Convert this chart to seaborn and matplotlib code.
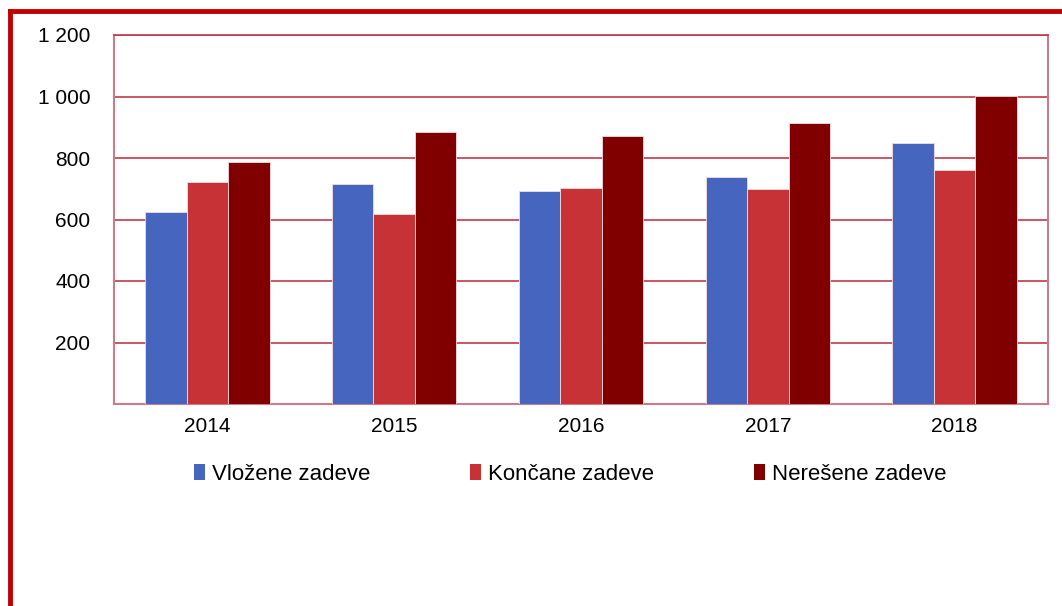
import pandas as pd
import matplotlib.pyplot as plt
import matplotlib.ticker as mticker
from matplotlib.lines import Line2D
from matplotlib.patches import Patch
import seaborn as sns

# === Data
years = ['2014', '2015', '2016', '2017', '2018']
vlozene = [624, 715, 693, 738, 849]
koncane = [721, 618, 702, 699, 761]
neresene = [787, 884, 872, 914, 1001]
series_names = ['Vložene zadeve', 'Končane zadeve', 'Nerešene zadeve']
colors = ['#4565BE', '#C63236', '#800000']

df = pd.DataFrame({
    'Leto': years * 3,
    'Zadeve': series_names[0:1] * 5 + series_names[1:2] * 5 + series_names[2:3] * 5,
    'Število': vlozene + koncane + neresene,
})

sns.set_style('white')
plt.rcParams['font.family'] = ['Liberation Sans', 'DejaVu Sans']
plt.rcParams['text.color'] = 'black'
plt.rcParams['xtick.color'] = 'black'
plt.rcParams['ytick.color'] = 'black'

fig = plt.figure(figsize=(10.62, 6.06), dpi=100)
ax = fig.add_axes([114 / 1062, 1 - 404 / 606, (1048 - 114) / 1062, (404 - 35) / 606])

sns.barplot(data=df, x='Leto', y='Število', hue='Zadeve', palette=colors,
            saturation=1, width=0.665, gap=0, edgecolor='#F2DDE0', linewidth=0.6,
            legend=False, ax=ax, zorder=3)

grid_c = '#C0394B'
spine_c = '#CB7C8A'

ax.set_ylim(0, 1200)
ax.set_xlim(-0.5, 4.5)
ax.set_yticks(range(0, 1201, 200))
ax.yaxis.set_major_formatter(mticker.FuncFormatter(
    lambda v, p: '' if v == 0 else f'{int(v):,}'.replace(',', ' ')))
ax.grid(axis='y', color=grid_c, linewidth=1.2, zorder=0)
ax.set_axisbelow(True)
ax.set_xlabel('')
ax.set_ylabel('')

for side in ['left', 'right', 'bottom', 'top']:
    ax.spines[side].set_visible(True)
    ax.spines[side].set_color(spine_c)
    ax.spines[side].set_linewidth(1.5)
ax.spines['top'].set_color(grid_c)
ax.spines['top'].set_linewidth(1.2)

ax.tick_params(axis='y', length=7, color=spine_c, labelcolor='black', width=1.2, labelsize=15, pad=10)
ax.tick_params(axis='x', which='major', length=0, labelcolor='black', labelsize=15, pad=9)
ax.set_xticks([-0.5, 0.5, 1.5, 2.5, 3.5, 4.5], minor=True)
ax.tick_params(axis='x', which='minor', length=7, color=spine_c, width=1.2)

# legend
handles = [Patch(facecolor=c, edgecolor='none') for c in colors]
fig.legend(handles, series_names, loc='center', bbox_to_anchor=(570 / 1062, 1 - 474 / 606),
           ncol=3, frameon=False, fontsize=16, handlelength=0.5, handleheight=0.75,
           handletextpad=0.3, columnspacing=4.5, labelcolor='black')

# red frame
fig.add_artist(Line2D([10 / 1062, 10 / 1062], [0, 1 - 11 / 606], color='#C00000',
                      linewidth=3.5, transform=fig.transFigure, solid_capstyle='projecting'))
fig.add_artist(Line2D([10 / 1062, 1], [1 - 11 / 606, 1 - 11 / 606], color='#C00000',
                      linewidth=3.5, transform=fig.transFigure, solid_capstyle='projecting'))

plt.savefig('out.png', dpi=100)
plt.close()
